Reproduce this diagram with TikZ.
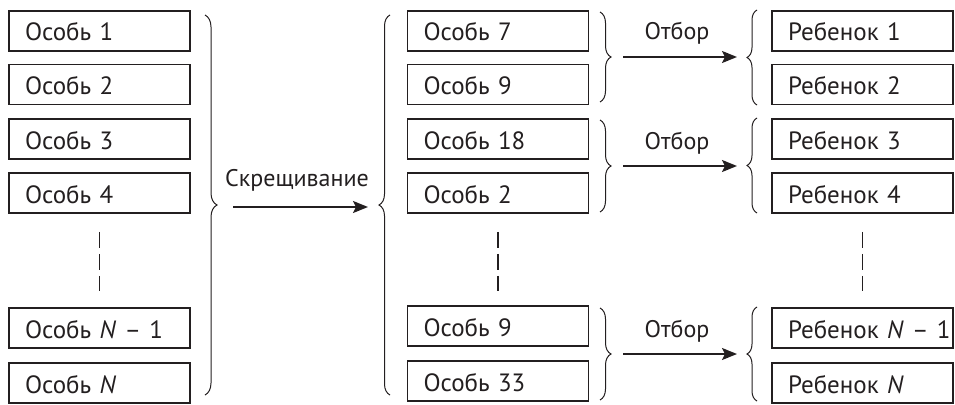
\documentclass[tikz,border=0pt]{standalone}
\usepackage{fontspec}
\setmainfont{PT Sans}
\usetikzlibrary{decorations.pathreplacing,arrows.meta}
\definecolor{ink}{HTML}{231F20}
\begin{document}
\begin{tikzpicture}[x=1pt,y=-1pt, color=ink,
  box/.style={draw, line width=1.8pt, minimum width=181pt, minimum height=40pt,
    text width=149pt, inner xsep=16pt, inner ysep=0pt, align=left,
    text height=20pt, text depth=0pt, font=\fontsize{25}{30}\selectfont},
  lbl/.style={inner sep=0pt, anchor=base, font=\fontsize{24}{30}\selectfont},
  brc/.style={decorate, line width=1pt},
  arr/.style={line width=2pt, -{Stealth[length=15pt,width=12pt,inset=3pt]}},
  gapline/.style={line width=1.8pt, dash pattern=on 16pt off 6pt}
]
\useasboundingbox (0,0) rectangle (955,404);

% left column
\node[box] (l1) at (99.5,31) {Особь~1};
\node[box] (l2) at (99.5,84.5) {Особь~2};
\node[box] (l3) at (99.5,139) {Особь~3};
\node[box] (l4) at (99.5,193) {Особь~4};
\node[box] (l5) at (99.5,328) {Особь~\textit{N}~–~1};
\node[box] (l6) at (99.5,383) {Особь~\textit{N}};
\draw[gapline] ([yshift=-18pt]l4.south) -- ([yshift=16pt]l5.north);

% middle column
\node[box] (m1) at (498,31) {Особь~7};
\node[box] (m2) at (498,84.5) {Особь~9};
\node[box] (m3) at (498,139) {Особь~18};
\node[box] (m4) at (498,193) {Особь~2};
\node[box] (m5) at (498,326) {Особь~9};
\node[box] (m6) at (498,381) {Особь~33};
\draw[gapline] ([yshift=-18pt]m4.south) -- ([yshift=14pt]m5.north);

% right column
\node[box] (r1) at (862.5,31) {Ребенок~1};
\node[box] (r2) at (862.5,84.5) {Ребенок~2};
\node[box] (r3) at (862.5,139) {Ребенок~3};
\node[box] (r4) at (862.5,193) {Ребенок~4};
\node[box] (r5) at (862.5,328) {\mbox{Ребенок~\textit{N}~–~1}};
\node[box] (r6) at (862.5,383) {Ребенок~\textit{N}};
\draw[gapline] ([yshift=-18pt]r4.south) -- ([yshift=16pt]r5.north);

% big braces
\draw[brc, decoration={brace,amplitude=12pt}] (205,15) -- (205,395);
\draw[brc, decoration={brace,amplitude=11pt}] (390,395) -- (390,15);
\coordinate (ca) at (233,207);
\coordinate (cb) at (368,207);
\draw[arr] (ca) -- (cb);
\node[lbl] (tx) at (297,186) {Скрещивание};

% small braces, middle
\draw[brc, decoration={brace,amplitude=11pt}] (600,12) -- (600,102);
\draw[brc, decoration={brace,amplitude=11pt}] (600,120) -- (600,212);
\draw[brc, decoration={brace,amplitude=11pt}] (600,308) -- (600,400);
% small braces, right
\draw[brc, decoration={brace,amplitude=10pt}] (757,105) -- (757,10);
\draw[brc, decoration={brace,amplitude=10pt}] (757,213) -- (757,118);
\draw[brc, decoration={brace,amplitude=10pt}] (757,401) -- (757,307);

\foreach \i/\y in {1/57, 2/166, 3/354} {
  \coordinate (s\i) at (623,\y);
  \coordinate (e\i) at (737,\y);
  \draw[arr] (s\i) -- (e\i);
  \node[lbl] (o\i) at (677,\y-17) {Отбор};
}
\end{tikzpicture}
\end{document}
